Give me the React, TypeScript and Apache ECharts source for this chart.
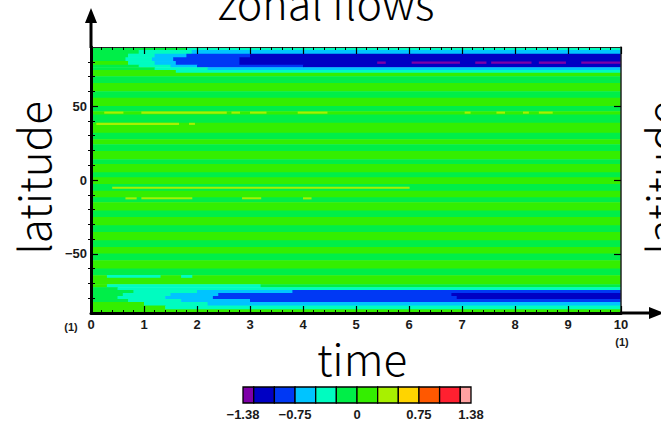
import { useEffect, useRef } from 'react';
import * as echarts from 'echarts';

// ---- data ----
const TIME_RANGE = [0, 10];
const LAT_RANGE = [-90, 90];
const TIME_TICKS_INTERVAL = 1;
const LAT_MAJOR_TICKS = [-50, 0, 50];
const LAT_MINOR_TICKS = [-80, -70, -60, -40, -30, -20, -10, 10, 20, 30, 40, 60, 70, 80];

const LEVELS = [-1.38, -1.25, -1.0, -0.75, -0.5, -0.25, 0, 0.25, 0.5, 0.75, 1.0, 1.25, 1.38];
const LEVEL_COLORS = ['#7d00a8', '#0000c4', '#0038f4', '#00c4ff', '#00fcc0', '#00ee48', '#34ee00', '#a8f000', '#ffd400', '#ff5800', '#ff2030', '#ffa0a0'];
const COLORBAR_LABELS = [-1.38, -0.75, 0, 0.75, 1.38];

// interior zonal stripes: [latTop, latBottom, value] (constant in time)
const STRIPES: [number, number, number][] = [
  [73, 70.2, 0.08],
  [70.2, 65.7, -0.08],
  [65.7, 60.1, 0.1],
  [60.1, 55.6, -0.1],
  [55.6, 50, 0.1],
  [50, 46.6, -0.08],
  [46.6, 44.4, 0.12],
  [44.4, 38.8, -0.06],
  [38.8, 32, 0.1],
  [32, 27.6, -0.08],
  [27.6, 24.2, 0.1],
  [24.2, 19.7, -0.1],
  [19.7, 14.1, 0.1],
  [14.1, 10.8, -0.08],
  [10.8, 5.2, 0.1],
  [5.2, 1.8, -0.08],
  [1.8, -2.7, 0.1],
  [-2.7, -7.2, -0.06],
  [-7.2, -11.7, 0.1],
  [-11.7, -15, -0.08],
  [-15, -20.6, 0.1],
  [-20.6, -25.1, -0.1],
  [-25.1, -30.7, 0.1],
  [-30.7, -35.2, -0.08],
  [-35.2, -40.8, 0.1],
  [-40.8, -45.3, -0.1],
  [-45.3, -49.8, 0.1],
  [-49.8, -54.3, -0.08],
  [-54.3, -59.9, 0.1],
  [-59.9, -64.4, -0.1],
  [-64.4, -70.5, 0.08],
];

// polar jets: [latTop, latBottom, [[timeStart, value], ...]]
const NORTH_JET: [number, number, [number, number][]][] = [
  [90, 88, [[0, -0.1], [1.8, -0.35]]],
  [88, 85.5, [[0, -0.1], [0.9, -0.35], [1.9, -0.6]]],
  [85.5, 83, [[0, -0.1], [0.7, -0.35], [1.2, -0.6], [1.8, -0.85], [3.0, -1.1]]],
  [83, 80.5, [[0, -0.05], [0.65, -0.35], [1.15, -0.6], [1.55, -0.85], [2.8, -1.1]]],
  [80.5, 78, [[0, 0.1], [0.7, -0.35], [1.2, -0.6], [1.6, -0.85], [2.8, -1.1]]],
  [78, 76.3, [[0, -0.1], [0.9, -0.35], [1.5, -0.6], [2.0, -0.85], [4.0, -1.1]]],
  [76.3, 74.5, [[0, -0.1], [1.2, -0.35], [2.2, -0.6]]],
  [74.5, 73, [[0, 0.08], [1.6, -0.35]]],
];

const SOUTH_JET: [number, number, [number, number][]][] = [
  [-70.5, -72.5, [[0, 0.08], [0.3, -0.35], [3.2, -0.1]]],
  [-72.5, -74.5, [[0, -0.1], [0.5, -0.35]]],
  [-74.5, -76.5, [[0, -0.1], [0.8, -0.35], [2.0, -0.6], [3.8, -0.85]]],
  [-76.5, -78.5, [[0, -0.1], [0.6, -0.35], [1.5, -0.6], [2.4, -0.85], [6.8, -1.05]]],
  [-78.5, -80.5, [[0, -0.1], [0.5, -0.35], [1.4, -0.6], [2.3, -0.85], [6.9, -1.05]]],
  [-80.5, -82.5, [[0, -0.1], [0.7, -0.35], [1.7, -0.6], [3.0, -0.85]]],
  [-82.5, -85, [[0, 0.08], [1.0, -0.35], [2.2, -0.6]]],
  [-85, -87.5, [[0, 0.08], [1.4, -0.35]]],
  [-87.5, -90, [[0, 0.08]]],
];

// thin streaks: [latTop, latBottom, tStart, tEnd, value]
const STREAKS: [number, number, number, number, number][] = [
  [46.3, 45.3, 0.25, 0.6, 0.35],
  [46.3, 45.3, 0.95, 2.55, 0.35],
  [46.3, 45.3, 2.65, 2.8, 0.35],
  [46.3, 45.3, 3.0, 3.3, 0.35],
  [46.3, 45.3, 3.9, 4.45, 0.35],
  [46.3, 45.3, 7.05, 7.15, 0.35],
  [46.3, 45.3, 7.65, 7.8, 0.35],
  [46.3, 45.3, 8.15, 8.25, 0.35],
  [46.3, 45.3, 8.45, 8.7, 0.35],
  [38.7, 37.7, 0.1, 1.65, 0.35],
  [38.7, 37.7, 1.85, 1.95, 0.35],
  [-4.5, -5.5, 0.4, 6.0, 0.35],
  [-11.7, -12.7, 0.65, 0.85, 0.35],
  [-11.7, -12.7, 0.95, 1.9, 0.35],
  [-11.7, -12.7, 2.85, 3.2, 0.35],
  [-11.7, -12.7, 4.0, 4.15, 0.35],
  [-64.3, -65.8, 0.3, 1.3, -0.35],
  [-64.3, -65.8, 1.7, 1.9, -0.35],
  [80.2, 79.0, 5.4, 5.55, -1.3],
  [80.2, 79.0, 6.05, 6.95, -1.3],
  [80.2, 79.0, 7.25, 7.45, -1.3],
  [80.2, 79.0, 7.55, 8.3, -1.3],
  [80.2, 79.0, 8.45, 8.95, -1.3],
  [80.2, 79.0, 9.25, 10, -1.3],
];

// ---- helpers ----
function fmt(v: number) {
  return (v < 0 ? '\u2212' : '') + String(Math.abs(v));
}

function colorOf(v: number) {
  for (let i = 0; i < LEVEL_COLORS.length; i++) {
    if (v < LEVELS[i + 1]) return LEVEL_COLORS[i];
  }
  return LEVEL_COLORS[LEVEL_COLORS.length - 1];
}

function buildCells() {
  const cells: number[][] = [];
  STRIPES.forEach(([top, bot, v]) => cells.push([TIME_RANGE[0], TIME_RANGE[1], bot, top, v]));
  [...NORTH_JET, ...SOUTH_JET].forEach(([top, bot, runs]) => {
    runs.forEach(([t0, v], i) => {
      const t1 = i + 1 < runs.length ? runs[i + 1][0] : TIME_RANGE[1];
      cells.push([t0, t1, bot, top, v]);
    });
  });
  STREAKS.forEach(([top, bot, t0, t1, v]) => cells.push([t0, t1, bot, top, v]));
  return cells;
}

function buildColorbar() {
  const boxes: number[][] = [];
  for (let i = 0; i < LEVEL_COLORS.length; i++) boxes.push([LEVELS[i], LEVELS[i + 1], i]);
  return boxes;
}

const TICK_FONT = "'Liberation Sans', Arial, sans-serif";
const LABEL_FONT = "'Noto Sans CJK JP', 'Noto Sans', sans-serif";

export default function App() {
  const ref = useRef<HTMLDivElement>(null);

  useEffect(() => {
    if (!ref.current) return;
    const chart = echarts.init(ref.current, undefined, { renderer: 'svg' });

    const tickLabel = { fontFamily: TICK_FONT, fontSize: 13, fontWeight: 'bold' as const, color: '#1a1a1a' };

    const option: any = {
      animation: false,
      backgroundColor: '#fff',
      grid: [
        { left: 91, top: 47, width: 530, height: 266, z: 10 },
        { left: 243, top: 387, width: 228, height: 16 },
      ],
      xAxis: [
        {
          type: 'value', gridIndex: 0, position: 'bottom', min: TIME_RANGE[0], max: TIME_RANGE[1], interval: TIME_TICKS_INTERVAL,
          z: 10,
          axisLine: { show: true, onZero: false, lineStyle: { color: '#000', width: 3 } },
          axisTick: { show: true, inside: true, length: 7, lineStyle: { color: '#000', width: 1.2 } },
          minorTick: { show: true, splitNumber: 5, length: 3, lineStyle: { color: '#000', width: 1 } },
          axisLabel: { ...tickLabel, margin: 5 },
          splitLine: { show: false },
        },
        {
          type: 'value', gridIndex: 0, position: 'top', min: TIME_RANGE[0], max: TIME_RANGE[1], interval: TIME_TICKS_INTERVAL,
          z: 10,
          axisLine: { show: true, onZero: false, lineStyle: { color: '#222', width: 1.2 } },
          axisTick: { show: true, inside: true, length: 7, lineStyle: { color: '#000', width: 1.2 } },
          minorTick: { show: true, splitNumber: 5, length: 3, lineStyle: { color: '#000', width: 1 } },
          axisLabel: { show: false },
          splitLine: { show: false },
        },
        {
          type: 'value', gridIndex: 1, min: LEVELS[0], max: LEVELS[LEVELS.length - 1],
          axisLine: { show: false },
          axisTick: { show: false },
          splitLine: { show: false },
          axisLabel: {
            customValues: COLORBAR_LABELS, formatter: (v: number) => fmt(v),
            fontFamily: TICK_FONT, fontSize: 13, fontWeight: 'bold', color: '#1a1a1a', margin: 5,
          },
        },
      ],
      yAxis: [
        {
          type: 'value', gridIndex: 0, position: 'left', min: LAT_RANGE[0], max: LAT_RANGE[1], z: 10,
          axisLine: { show: true, onZero: false, lineStyle: { color: '#000', width: 3 } },
          axisTick: { show: true, inside: true, length: 7, customValues: LAT_MAJOR_TICKS, lineStyle: { color: '#000', width: 1.2 } },
          axisLabel: { ...tickLabel, margin: 4, customValues: LAT_MAJOR_TICKS, formatter: (v: number) => fmt(v) },
          splitLine: { show: false },
        },
        {
          type: 'value', gridIndex: 0, position: 'left', min: LAT_RANGE[0], max: LAT_RANGE[1], z: 10,
          axisLine: { show: false },
          axisTick: { show: true, inside: true, length: 4, customValues: LAT_MINOR_TICKS, lineStyle: { color: '#000', width: 1 } },
          axisLabel: { show: false },
          splitLine: { show: false },
        },
        {
          type: 'value', gridIndex: 0, position: 'right', min: LAT_RANGE[0], max: LAT_RANGE[1], z: 10,
          axisLine: { show: true, onZero: false, lineStyle: { color: '#222', width: 1.5 } },
          axisTick: { show: true, inside: true, length: 7, customValues: LAT_MAJOR_TICKS, lineStyle: { color: '#000', width: 1.2 } },
          axisLabel: { show: false },
          splitLine: { show: false },
        },
        {
          type: 'value', gridIndex: 0, position: 'right', min: LAT_RANGE[0], max: LAT_RANGE[1], z: 10,
          axisLine: { show: false },
          axisTick: { show: true, inside: true, length: 3, customValues: LAT_MINOR_TICKS, lineStyle: { color: '#000', width: 1 } },
          axisLabel: { show: false },
          splitLine: { show: false },
        },
        {
          type: 'value', gridIndex: 1, min: 0, max: 1, show: false,
        },
      ],
      series: [
        {
          type: 'custom',
          name: 'zonal flows',
          xAxisIndex: 0,
          yAxisIndex: 0,
          z: 1,
          clip: true,
          encode: { x: [0, 1], y: [2, 3] },
          data: buildCells(),
          renderItem: (_params: any, api: any) => {
            const a = api.coord([api.value(0), api.value(3)]);
            const b = api.coord([api.value(1), api.value(2)]);
            return {
              type: 'rect',
              shape: { x: a[0], y: a[1], width: b[0] - a[0] + 0.6, height: b[1] - a[1] + 0.6 },
              style: { fill: colorOf(api.value(4)) },
            };
          },
        },
        {
          type: 'custom',
          name: 'colorbar',
          xAxisIndex: 2,
          yAxisIndex: 4,
          z: 2,
          encode: { x: [0, 1] },
          data: buildColorbar(),
          renderItem: (_params: any, api: any) => {
            const a = api.coord([api.value(0), 1]);
            const b = api.coord([api.value(1), 0]);
            return {
              type: 'rect',
              shape: { x: a[0], y: a[1], width: b[0] - a[0], height: b[1] - a[1] },
              style: { fill: LEVEL_COLORS[api.value(2)], stroke: '#000', lineWidth: 1.3 },
            };
          },
        },
      ],
      graphic: [
        { type: 'line', z: 20, shape: { x1: 91, y1: 20, x2: 91, y2: 48 }, style: { stroke: '#000', lineWidth: 3 } },
        { type: 'polygon', z: 20, shape: { points: [[85, 23], [97, 23], [91, 8]] }, style: { fill: '#000' } },
        { type: 'line', z: 20, shape: { x1: 620, y1: 313, x2: 652, y2: 313 }, style: { stroke: '#000', lineWidth: 3 } },
        { type: 'polygon', z: 20, shape: { points: [[649, 307], [649, 319], [664, 313]] }, style: { fill: '#000' } },
        {
          type: 'text', z: 20, x: 326, y: 1,
          style: { text: 'zonal flows', font: `300 43px ${LABEL_FONT}`, fill: '#000', align: 'center', verticalAlign: 'middle' },
        },
        {
          type: 'text', z: 20, x: 362, y: 357,
          style: { text: 'time', font: `300 44px ${LABEL_FONT}`, lineHeight: 30, fill: '#000', align: 'center', verticalAlign: 'middle' },
        },
        {
          type: 'text', z: 20, x: 32, y: 178, rotation: Math.PI / 2,
          style: { text: 'latitude', font: `300 44px ${LABEL_FONT}`, fill: '#000', align: 'center', verticalAlign: 'middle' },
        },
        {
          type: 'text', z: 20, x: 660, y: 178, rotation: Math.PI / 2,
          style: { text: 'latitude', font: `300 44px ${LABEL_FONT}`, fill: '#000', align: 'center', verticalAlign: 'middle' },
        },
        {
          type: 'text', z: 20, x: 71, y: 327,
          style: { text: '(1)', font: `bold 11px ${TICK_FONT}`, fill: '#1a1a1a', align: 'center', verticalAlign: 'middle' },
        },
        {
          type: 'text', z: 20, x: 622, y: 342,
          style: { text: '(1)', font: `bold 11px ${TICK_FONT}`, fill: '#1a1a1a', align: 'center', verticalAlign: 'middle' },
        },
      ],
    };

    chart.setOption(option);
    return () => chart.dispose();
  }, []);

  return (
    <div
      ref={ref}
      style={{ position: 'fixed', left: 0, top: 0, width: 661, height: 422, background: '#fff' }}
    />
  );
}
